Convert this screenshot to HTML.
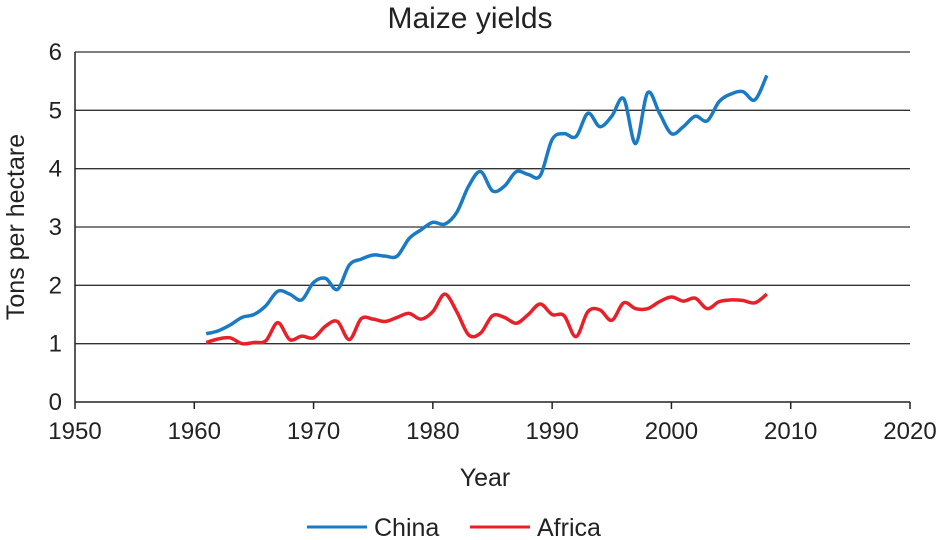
<!DOCTYPE html>
<html><head><meta charset="utf-8"><style>
body{margin:0;background:#fff;}
svg{display:block;font-family:"Liberation Sans",sans-serif;}
</style></head><body>
<svg id="chart" width="940" height="540" viewBox="0 0 940 540">
<text x="470" y="28" font-size="30" text-anchor="middle" fill="#222">Maize yields</text>
<g id="grid"></g><g id="axes"></g><g id="series"></g>
<text x="485" y="486" font-size="25" text-anchor="middle" fill="#222">Year</text>
<text transform="translate(24,227) rotate(-90)" font-size="25" text-anchor="middle" fill="#222">Tons per hectare</text>
<g>
<g><line x1="307" y1="527" x2="367" y2="527" stroke="#1a7bc4" stroke-width="3"/><text x="374" y="536" font-size="25" fill="#222">China</text></g>
<g><line x1="470" y1="527" x2="530" y2="527" stroke="#e8202a" stroke-width="3"/><text x="537" y="536" font-size="25" fill="#222">Africa</text></g>
</g>
</svg>
<script>
const years=[1961,1962,1963,1964,1965,1966,1967,1968,1969,1970,1971,1972,1973,1974,1975,1976,1977,1978,1979,1980,1981,1982,1983,1984,1985,1986,1987,1988,1989,1990,1991,1992,1993,1994,1995,1996,1997,1998,1999,2000,2001,2002,2003,2004,2005,2006,2007,2008];
const china=[1.17,1.22,1.32,1.45,1.5,1.65,1.9,1.85,1.75,2.05,2.12,1.93,2.35,2.45,2.52,2.5,2.5,2.8,2.95,3.08,3.05,3.25,3.7,3.95,3.62,3.7,3.95,3.9,3.88,4.5,4.6,4.55,4.95,4.72,4.9,5.2,4.43,5.3,4.95,4.6,4.72,4.9,4.82,5.15,5.28,5.32,5.18,5.6];
const africa=[1.02,1.08,1.1,1.0,1.02,1.05,1.36,1.07,1.13,1.1,1.3,1.38,1.07,1.43,1.42,1.38,1.45,1.52,1.42,1.55,1.85,1.55,1.15,1.18,1.48,1.45,1.35,1.5,1.68,1.5,1.48,1.12,1.55,1.58,1.4,1.7,1.6,1.6,1.72,1.8,1.73,1.78,1.6,1.72,1.75,1.74,1.7,1.85];
const xTicks=[1950,1960,1970,1980,1990,2000,2010,2020];
const yTicks=[0,1,2,3,4,5,6];
const NS="http://www.w3.org/2000/svg";
const X=v=>75+(v-1950)*(910-75)/70;
const Y=v=>402-v*(402-52)/6;
function mk(tag,attrs,parent){const e=document.createElementNS(NS,tag);for(const k in attrs)e.setAttribute(k,attrs[k]);parent.appendChild(e);return e;}
const grid=document.getElementById('grid'),axes=document.getElementById('axes'),series=document.getElementById('series');
yTicks.forEach(t=>{
 if(t>0){const l=mk('line',{x1:75,x2:910,y1:Y(t),y2:Y(t),stroke:'#333','stroke-width':1.3},grid);
 
 }
 const tx=mk('text',{x:62,y:Y(t)+8,'font-size':24,'text-anchor':'end',fill:'#222'},axes);tx.textContent=t;
 
 
});
xTicks.forEach(t=>{
 const l=mk('line',{x1:X(t),x2:X(t),y1:402,y2:409,stroke:'#222','stroke-width':1.5},axes);
 
 
 const tx=mk('text',{x:X(t),y:439,'font-size':24,'text-anchor':'middle',fill:'#222'},axes);tx.textContent=t;
 
 
});
const ya=mk('line',{x1:75,x2:75,y1:52,y2:402,stroke:'#222','stroke-width':1.5},axes);


const xa=mk('line',{x1:75,x2:910,y1:402,y2:402,stroke:'#222','stroke-width':1.5},axes);


function smooth(vals){
 const p=vals.map((v,i)=>[X(years[i]),Y(v)]);
 let d='M'+p[0][0]+','+p[0][1];
 for(let i=0;i<p.length-1;i++){
  const p0=p[Math.max(0,i-1)],p1=p[i],p2=p[i+1],p3=p[Math.min(p.length-1,i+2)];
  const c1=[p1[0]+(p2[0]-p0[0])/6,p1[1]+(p2[1]-p0[1])/6],c2=[p2[0]-(p3[0]-p1[0])/6,p2[1]-(p3[1]-p1[1])/6];
  d+=' C'+c1+' '+c2+' '+p2;
 }
 return d;
}
const pc=mk('path',{d:smooth(china),fill:'none',stroke:'#1a7bc4','stroke-width':3.5,'stroke-linejoin':'round'},series);


const pa=mk('path',{d:smooth(africa),fill:'none',stroke:'#e8202a','stroke-width':3.5,'stroke-linejoin':'round'},series);


</script>
</body></html>
